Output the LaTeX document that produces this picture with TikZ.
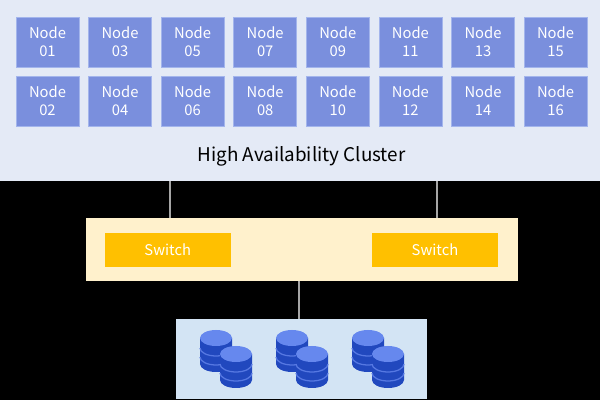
\documentclass[tikz,border=0pt]{standalone}
\usepackage{fontspec}
\setmainfont{Noto Sans CJK SC}
\usepackage{xcolor}
\definecolor{bandcol}{HTML}{E4EAF6}
\definecolor{nodecol}{HTML}{7A8FDD}
\definecolor{nodeedge}{HTML}{A3B5EC}
\definecolor{fabriccol}{HTML}{FFF1CC}
\definecolor{switchcol}{HTML}{FFC000}
\definecolor{storecol}{HTML}{D3E4F4}
\definecolor{linecol}{HTML}{A6A6A6}
\definecolor{dbdark}{HTML}{2148BE}
\definecolor{dbmid}{HTML}{5678E2}
\definecolor{dbtop}{HTML}{6688EE}
\tikzset{x=0.025cm, y=-0.025cm}
\tikzset{link/.style={draw=linecol, line width=0.8pt}}
\newcommand{\hanode}[2]{node[rectangle, draw=nodeedge, line width=0.5pt, fill=nodecol, text=white, minimum width=1.575cm, minimum height=1.25cm, inner sep=0pt, align=center, font=\fontsize{10.5}{12.4}\selectfont](#1) {Node\\\rule[-0.3pt]{0pt}{1pt}#2}}
\newcommand{\swnode}[2]{node[rectangle, fill=switchcol, text=white, minimum width=3.14cm, minimum height=0.85cm, inner sep=0pt, font=\fontsize{10.5}{12}\selectfont](#1) {#2}}
% x and y of the top ellipse
\newcommand{\dbcyl}[2]{
\fill[dbdark] (#1-16,#2) -- (#1-16,#2+26) arc[start angle=180, end angle=0, x radius=16, y radius=8] -- (#1+16,#2) -- cycle ;
\draw[dbmid, line width=0.9pt] (#1-16,#2+10) arc[start angle=180, end angle=0, x radius=16, y radius=8] ;
\draw[dbmid, line width=0.9pt] (#1-16,#2+19) arc[start angle=180, end angle=0, x radius=16, y radius=8] ;
\fill[dbtop] (#1,#2) ellipse[x radius=16, y radius=8] ;
}
\newcommand{\dbpair}[1]{
\dbcyl{#1}{338}
\dbcyl{#1+20}{354}
}
\begin{document}
\begin{tikzpicture}
\useasboundingbox (0,0) rectangle (600,400);
\fill[black] (0,0) rectangle (600,400);
\draw (300,90.5) node[rectangle, fill=bandcol, minimum width=15cm, minimum height=4.525cm, inner sep=0pt](cluster) {} ;
\draw (47.5,42) \hanode{n01}{01} ;
\draw (47.5,101) \hanode{n02}{02} ;
\draw (120,42) \hanode{n03}{03} ;
\draw (120,101) \hanode{n04}{04} ;
\draw (192.6,42) \hanode{n05}{05} ;
\draw (192.6,101) \hanode{n06}{06} ;
\draw (265.2,42) \hanode{n07}{07} ;
\draw (265.2,101) \hanode{n08}{08} ;
\draw (337.8,42) \hanode{n09}{09} ;
\draw (337.8,101) \hanode{n10}{10} ;
\draw (410.4,42) \hanode{n11}{11} ;
\draw (410.4,101) \hanode{n12}{12} ;
\draw (483,42) \hanode{n13}{13} ;
\draw (483,101) \hanode{n14}{14} ;
\draw (555.5,42) \hanode{n15}{15} ;
\draw (555.5,101) \hanode{n16}{16} ;
\draw (301.5,156) node[font=\fontsize{13.4}{15}\selectfont](title) {High Availability Cluster} ;
\draw (301.75,249.5) node[rectangle, fill=fabriccol, minimum width=10.8cm, minimum height=1.575cm, inner sep=0pt](fabric) {} ;
\draw (167.75,250) \swnode{sw1}{Switch} ;
\draw (435,250) \swnode{sw2}{Switch} ;
\draw (301.5,359) node[rectangle, fill=storecol, minimum width=6.275cm, minimum height=2cm, inner sep=0pt](store) {} ;
\coordinate (up1) at (170,181) ;
\coordinate (up2) at (437,181) ;
\coordinate (down) at (299,281) ;
\draw[link] (up1) -- (up1 |- fabric.north) ;
\draw[link] (up2) -- (up2 |- fabric.north) ;
\draw[link] (down) -- (down |- store.north) ;
\dbpair{216}
\dbpair{292}
\dbpair{368}
\end{tikzpicture}
\end{document}
